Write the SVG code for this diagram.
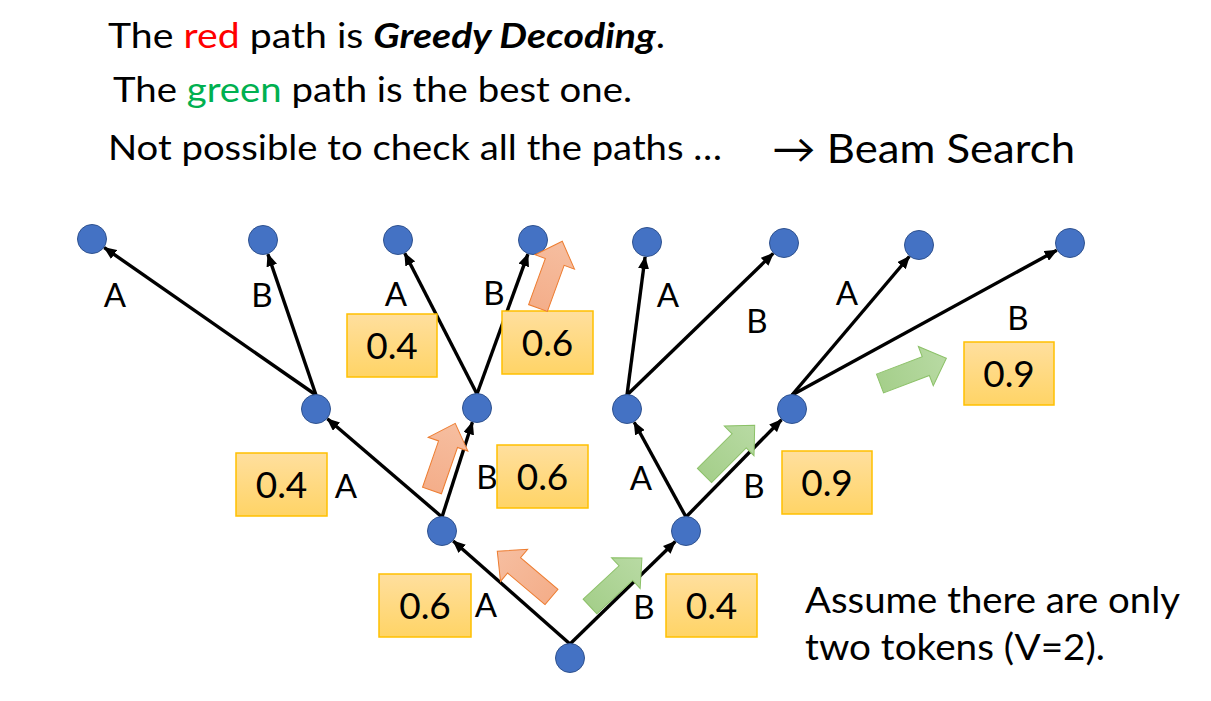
<svg xmlns="http://www.w3.org/2000/svg" xmlns:xlink="http://www.w3.org/1999/xlink" width="1211" height="701" viewBox="0 0 1211 701">
<style>
text{font-family:Lato,"Open Sans","Liberation Sans",sans-serif;fill:#000}
.title{font-size:34px}
.lbl{font-size:33px;text-anchor:middle}
.num{font-size:37px;text-anchor:middle}
.note{font-size:37px}
.node{fill:#4472C4;stroke:#2F528F;stroke-width:1}
.edge{stroke:#000;stroke-width:3.4;fill:none;marker-end:url(#ah)}
.box{fill:url(#gbox);stroke:#FFC000;stroke-width:1.5}
.red{fill:url(#gred);stroke:#ED7D31;stroke-width:1}
.green{fill:url(#ggreen);stroke:#8CC168;stroke-width:1}
</style>
<defs>
<marker id="ah" markerUnits="userSpaceOnUse" markerWidth="13" markerHeight="11" refX="12" refY="5.5" orient="auto">
<path d="M0,0 L13,5.5 L0,11 Z" fill="#000"/>
</marker>
<linearGradient id="gbox" x1="0" y1="0" x2="0" y2="1">
<stop offset="0" stop-color="#FFDF9E"/>
<stop offset="1" stop-color="#FFD466"/>
</linearGradient>
<linearGradient id="gred" x1="0" y1="0" x2="1" y2="0">
<stop offset="0" stop-color="#F4AE8A"/>
<stop offset="1" stop-color="#F6BEA0"/>
</linearGradient>
<linearGradient id="ggreen" x1="0" y1="0" x2="1" y2="0">
<stop offset="0" stop-color="#A5CF8B"/>
<stop offset="1" stop-color="#B8DAA3"/>
</linearGradient>
<path id="fat" d="M0,-10 L49,-10 L49,-21 L71,0 L49,21 L49,10 L0,10 Z"/>
</defs>
<rect width="1211" height="701" fill="#fff"/>

<g id="title">
<text class="title" x="108" y="48" textLength="557" lengthAdjust="spacingAndGlyphs">The <tspan fill="#FF0000">red</tspan> path is <tspan font-weight="bold" font-style="italic">Greedy Decoding</tspan>.</text>
<text class="title" x="113" y="102" textLength="519" lengthAdjust="spacingAndGlyphs">The <tspan fill="#00B050">green</tspan> path is the best one.</text>
<text class="title" x="108" y="160" textLength="614" lengthAdjust="spacingAndGlyphs">Not possible to check all the paths …</text>
<text x="772" y="163" font-size="40" textLength="303" lengthAdjust="spacingAndGlyphs">→ Beam Search</text>
</g>

<g id="connectors">
<line class="edge" x1="570" y1="644" x2="453.2" y2="540.9"/>
<line class="edge" x1="570" y1="644" x2="675.3" y2="541.5"/>
<line class="edge" x1="442" y1="517" x2="327.4" y2="418.8"/>
<line class="edge" x1="442" y1="517" x2="472.4" y2="422.3"/>
<line class="edge" x1="686" y1="517" x2="634.2" y2="422.2"/>
<line class="edge" x1="686" y1="517" x2="781.5" y2="419.7"/>
<line class="edge" x1="316" y1="395" x2="104.3" y2="247.6"/>
<line class="edge" x1="316" y1="395" x2="267.9" y2="254.2"/>
<line class="edge" x1="477" y1="394" x2="404.8" y2="253.3"/>
<line class="edge" x1="477" y1="394" x2="527.9" y2="254.1"/>
<line class="edge" x1="627" y1="395" x2="645.1" y2="256.9"/>
<line class="edge" x1="627" y1="395" x2="773.2" y2="253.4"/>
<line class="edge" x1="792" y1="395" x2="909.3" y2="256.5"/>
<line class="edge" x1="792" y1="395" x2="1056.8" y2="250.2"/>
</g>

<g id="nodes">
<circle id="n-root" class="node" cx="570" cy="658" r="14.5"/>
<circle id="n-A" class="node" cx="442" cy="531" r="14.5"/>
<circle id="n-B" class="node" cx="686" cy="531" r="14.5"/>
<circle id="n-AA" class="node" cx="316" cy="409" r="14.5"/>
<circle id="n-AB" class="node" cx="477" cy="408" r="14.5"/>
<circle id="n-BA" class="node" cx="627" cy="409" r="14.5"/>
<circle id="n-BB" class="node" cx="792" cy="409" r="14.5"/>
<circle id="n-AAA" class="node" cx="92" cy="239" r="14.5"/>
<circle id="n-AAB" class="node" cx="263" cy="240" r="14.5"/>
<circle id="n-ABA" class="node" cx="398" cy="240" r="14.5"/>
<circle id="n-ABB" class="node" cx="533" cy="240" r="14.5"/>
<circle id="n-BAA" class="node" cx="647" cy="242" r="14.5"/>
<circle id="n-BAB" class="node" cx="784" cy="243" r="14.5"/>
<circle id="n-BBA" class="node" cx="919" cy="245" r="14.5"/>
<circle id="n-BBB" class="node" cx="1070" cy="243" r="14.5"/>
</g>

<g id="edge-labels">
<text class="lbl" x="115" y="307">A</text>
<text class="lbl" x="262" y="307">B</text>
<text class="lbl" x="396" y="306">A</text>
<text class="lbl" x="494" y="305">B</text>
<text class="lbl" x="668" y="307">A</text>
<text class="lbl" x="757" y="333">B</text>
<text class="lbl" x="847" y="305">A</text>
<text class="lbl" x="1018" y="330">B</text>
<text class="lbl" x="346" y="498">A</text>
<text class="lbl" x="487" y="489">B</text>
<text class="lbl" x="641" y="490">A</text>
<text class="lbl" x="754" y="498">B</text>
<text class="lbl" x="486" y="617">A</text>
<text class="lbl" x="644" y="619">B</text>
</g>

<g id="prob-boxes">
<g id="p-A"><rect class="box" x="379" y="574" width="92" height="63"/><text class="num" x="425" y="619">0.6</text></g>
<g id="p-B"><rect class="box" x="666" y="574" width="91" height="63"/><text class="num" x="711.5" y="619">0.4</text></g>
<g id="p-AA"><rect class="box" x="236" y="453" width="91" height="63"/><text class="num" x="281.5" y="498">0.4</text></g>
<g id="p-AB"><rect class="box" x="497" y="445" width="91" height="63"/><text class="num" x="542.5" y="490">0.6</text></g>
<g id="p-BB"><rect class="box" x="782" y="451" width="90" height="63"/><text class="num" x="827" y="496">0.9</text></g>
<g id="p-ABA"><rect class="box" x="347" y="314" width="90" height="63"/><text class="num" x="392" y="359">0.4</text></g>
<g id="p-ABB"><rect class="box" x="502" y="311" width="91" height="63"/><text class="num" x="547.5" y="356">0.6</text></g>
<g id="p-BBB"><rect class="box" x="964" y="342" width="90" height="63"/><text class="num" x="1009" y="387">0.9</text></g>
</g>

<g id="greedy-arrows">
<use xlink:href="#fat" class="red" transform="translate(551.5,597) rotate(-139.8)"/>
<use xlink:href="#fat" class="red" transform="translate(432,490.5) rotate(-70.9)"/>
<use xlink:href="#fat" class="red" transform="translate(538,308) rotate(-70)"/>
</g>
<g id="best-arrows">
<use xlink:href="#fat" class="green" transform="translate(590,606.5) rotate(-43)"/>
<use xlink:href="#fat" class="green" transform="translate(704.5,475.5) rotate(-45)"/>
<use xlink:href="#fat" class="green" transform="translate(880,383.5) rotate(-20.8)"/>
</g>

<g id="note">
<text class="note" x="805" y="613" textLength="375" lengthAdjust="spacingAndGlyphs">Assume there are only</text>
<text class="note" x="805" y="660" textLength="300" lengthAdjust="spacingAndGlyphs">two tokens (V=2).</text>
</g>
</svg>
